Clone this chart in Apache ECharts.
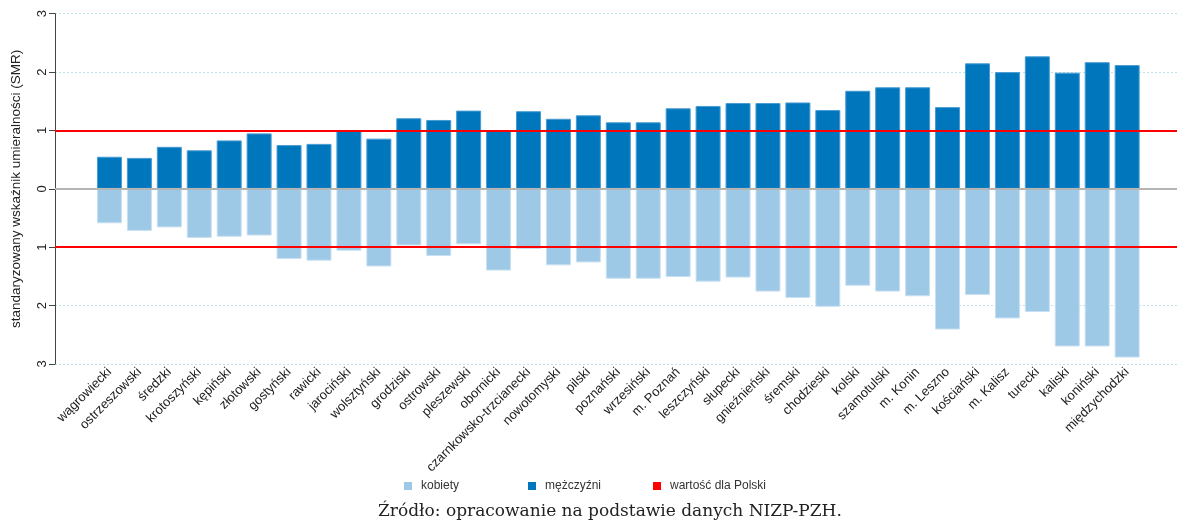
<!DOCTYPE html>
<html>
<head>
<meta charset="utf-8">
<script src="https://cdn.jsdelivr.net/npm/echarts@6.0.0/dist/echarts.min.js"></script>
<style>
  html, body { margin: 0; padding: 0; background: #fff; }
  #smr { width: 1177px; height: 523px; }
</style>
</head>
<body>
<div id="smr"></div>
<script>
// powiaty (kolejność jak na wykresie)
const powiaty = [
  'wągrowiecki', 'ostrzeszowski', 'średzki', 'krotoszyński', 'kępiński', 'złotowski',
  'gostyński', 'rawicki', 'jarociński', 'wolsztyński', 'grodziski', 'ostrowski',
  'pleszewski', 'obornicki', 'czarnkowsko-trzcianecki', 'nowotomyski', 'pilski',
  'poznański', 'wrzesiński', 'm. Poznań', 'leszczyński', 'słupecki', 'gnieźnieński',
  'śremski', 'chodzieski', 'kolski', 'szamotulski', 'm. Konin', 'm. Leszno',
  'kościański', 'm. Kalisz', 'turecki', 'kaliski', 'koniński', 'międzychodzki'
]

// SMR mężczyźni (słupki w górę)
const mezczyzni = [
  0.55, 0.53, 0.72, 0.66, 0.83, 0.95,
  0.75, 0.77, 1.00, 0.86, 1.21, 1.18,
  1.34, 1.00, 1.33, 1.20, 1.26,
  1.14, 1.14, 1.38, 1.42, 1.47, 1.47,
  1.48, 1.35, 1.68, 1.74, 1.74, 1.40,
  2.15, 2.00, 2.27, 1.99, 2.17, 2.12
]

// SMR kobiety (rysowane w dół)
const kobiety = [
  0.59, 0.72, 0.66, 0.84, 0.82, 0.80,
  1.20, 1.23, 1.06, 1.33, 0.97, 1.15,
  0.95, 1.40, 1.03, 1.31, 1.26,
  1.54, 1.54, 1.51, 1.59, 1.52, 1.76,
  1.87, 2.02, 1.66, 1.76, 1.84, 2.41,
  1.82, 2.22, 2.11, 2.70, 2.70, 2.89
]

const wartoscPolska = 1
const yTicks = [-3, -2, -1, 0, 1, 2, 3]

const chart = echarts.init(document.getElementById('smr'))

const legendBase = {
  top: 480,
  padding: 0,
  icon: 'rect',
  itemWidth: 8,
  itemHeight: 8,
  itemStyle: { borderWidth: 0 },
  textStyle: { fontSize: 12, color: '#333', padding: [0, 0, 0, 4] }
}

const option = {
  backgroundColor: '#fff',
  animation: false,
  textStyle: { fontFamily: 'Liberation Sans, Arial, sans-serif' },
  title: {
    text: 'Źródło: opracowanie na podstawie danych NIZP-PZH.',
    left: 378,
    top: 503,
    padding: 0,
    textStyle: {
      fontFamily: 'DejaVu Serif, serif',
      fontWeight: 'normal',
      fontSize: 17,
      color: '#222'
    }
  },
  legend: [
    Object.assign({ left: 404, data: ['kobiety'] }, legendBase),
    Object.assign({ left: 528, data: ['mężczyźni'] }, legendBase),
    Object.assign({ left: 653, data: ['wartość dla Polski'] }, legendBase)
  ],
  // grid 0: oś Y, linie siatki i linie referencyjne; grid 1: słupki
  grid: [
    { left: 55, right: 0, top: 13.7, bottom: 159, outerBoundsMode: 'none' },
    { left: 94.5, right: 34.9, top: 13.7, bottom: 159, outerBoundsMode: 'none' }
  ],
  xAxis: [
    { gridIndex: 0, type: 'value', min: 0, max: 1, show: false },
    {
      gridIndex: 1,
      type: 'category',
      data: powiaty,
      axisLine: { show: false },
      axisTick: { show: false },
      splitLine: { show: false },
      axisLabel: {
        interval: 0,
        rotate: 45,
        margin: 6,
        fontSize: 13,
        color: '#222'
      }
    }
  ],
  yAxis: [
    {
      gridIndex: 0,
      type: 'value',
      min: yTicks[0],
      max: yTicks[yTicks.length - 1],
      interval: 1,
      name: 'standaryzowany wskaźnik umieralności (SMR)',
      nameLocation: 'middle',
      nameGap: 32,
      nameTextStyle: { fontSize: 13.5, color: '#222' },
      axisLine: { show: true, onZero: false, lineStyle: { color: '#444' } },
      axisTick: { show: true, length: 6, lineStyle: { color: '#444' } },
      axisLabel: {
        rotate: 90,
        margin: 6,
        fontSize: 13,
        color: '#222',
        formatter: v => Math.abs(v)
      },
      splitLine: { lineStyle: { type: [2, 2], color: '#bfe1ea' } }
    },
    {
      gridIndex: 1,
      type: 'value',
      min: yTicks[0],
      max: yTicks[yTicks.length - 1],
      show: false,
      splitLine: { show: false }
    }
  ],
  series: [
    {
      name: 'kobiety',
      type: 'bar',
      xAxisIndex: 1,
      yAxisIndex: 1,
      barWidth: 25,
      barGap: '-100%',
      itemStyle: { color: '#9dc8e6', borderColor: '#c9e0f2', borderWidth: 1 },
      data: kobiety.map(v => -v)
    },
    {
      name: 'mężczyźni',
      type: 'bar',
      xAxisIndex: 1,
      yAxisIndex: 1,
      barWidth: 25,
      barGap: '-100%',
      itemStyle: { color: '#0077bd', borderColor: '#4a9bd2', borderWidth: 1 },
      data: mezczyzni
    },
    {
      name: 'wartość dla Polski',
      type: 'line',
      xAxisIndex: 0,
      yAxisIndex: 0,
      color: '#ff0000',
      data: [],
      markLine: {
        silent: true,
        symbol: 'none',
        label: { show: false },
        lineStyle: { color: '#ff0000', width: 2, type: 'solid' },
        data: [
          { yAxis: 0, lineStyle: { color: '#b5b5b5', width: 2, type: 'solid' } },
          { yAxis: wartoscPolska },
          { yAxis: -wartoscPolska }
        ]
      }
    }
  ]
}

chart.setOption(option)
window.addEventListener('resize', chart.resize)
</script>
</body>
</html>
